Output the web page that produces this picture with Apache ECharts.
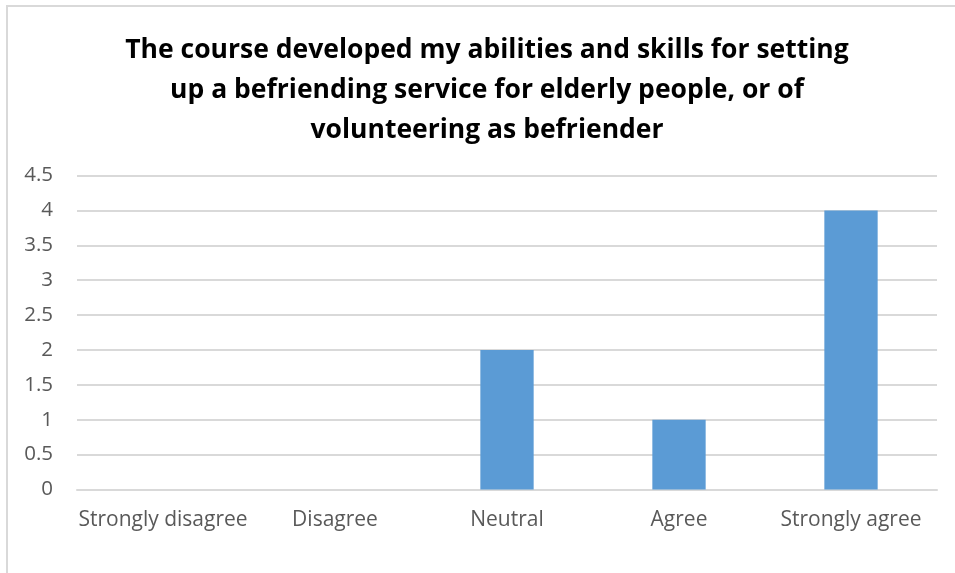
<!DOCTYPE html>
<html>
<head>
<meta charset="utf-8">
<script src="https://cdn.jsdelivr.net/npm/echarts@6/dist/echarts.min.js"></script>
<style>
  html, body { margin: 0; padding: 0; background: #fff; }
  #frame { position: absolute; left: 6px; top: 5px; width: 960px; height: 580px; border: 2px solid #d9d9d9; box-sizing: border-box; }
  #chart { position: absolute; left: 0; top: 0; width: 955px; height: 573px; }
</style>
</head>
<body>
<div id="frame"></div>
<div id="chart"></div>
<script>
  // chart data
  var categories = ['Strongly disagree', 'Disagree', 'Neutral', 'Agree', 'Strongly agree'];
  var counts = [0, 0, 2, 1, 4];
  var titleText = 'The course developed my abilities and skills for setting\nup a befriending service for elderly people, or of\nvolunteering as befriender';

  var myChart = echarts.init(document.getElementById('chart'));
  myChart.setOption({
    backgroundColor: 'transparent',
    title: {
      text: titleText,
      left: 482,
      top: 25,
      textAlign: 'center',
      textStyle: {
        color: '#000',
        fontFamily: 'Open Sans',
        fontWeight: 'bold',
        fontSize: 26.5,
        lineHeight: 40
      }
    },
    grid: {
      left: 77,
      right: 18,
      top: 175.5,
      bottom: 83.5,
      containLabel: false
    },
    xAxis: {
      type: 'category',
      data: categories,
      axisLine: { show: true, lineStyle: { color: '#d9d9d9', width: 2 } },
      axisTick: { show: false },
      axisLabel: {
        interval: 0,
        color: '#595959',
        fontFamily: 'Open Sans',
        fontSize: 21,
        margin: 20
      }
    },
    yAxis: {
      type: 'value',
      min: 0,
      max: 4.5,
      interval: 0.5,
      axisLine: { show: false },
      axisTick: { show: false },
      axisLabel: {
        color: '#595959',
        fontFamily: 'Open Sans',
        fontSize: 20.5,
        margin: 24
      },
      splitLine: { lineStyle: { color: '#d9d9d9', width: 2 } }
    },
    series: [{
      type: 'bar',
      data: counts,
      barWidth: '31%',
      itemStyle: { color: '#5b9bd5' }
    }]
  });
</script>
</body>
</html>
